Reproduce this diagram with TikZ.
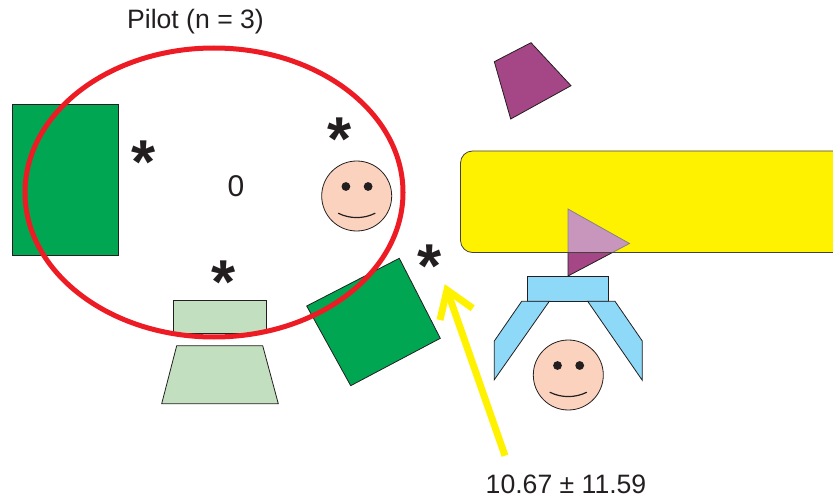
\documentclass[tikz,border=0pt]{standalone}
\usepackage{fontspec}
\usetikzlibrary{shapes.geometric}
\setmainfont{Liberation Sans}
\definecolor{ink}{HTML}{231F20}
\definecolor{dgreen}{HTML}{00A651}
\definecolor{pgreen}{HTML}{C2E0C0}
\definecolor{ared}{HTML}{ED1C24}
\definecolor{ayellow}{HTML}{FFF200}
\definecolor{apurple}{HTML}{A54686}
\definecolor{lpurple}{HTML}{C895BC}
\definecolor{ablue}{HTML}{8ED8F8}
\definecolor{skin}{HTML}{FBD2BD}
\tikzset{
  shapeline/.style={draw=ink,line width=0.8pt,line join=miter},
  label text/.style={text=ink,inner sep=0pt,font=\fontsize{26.6}{30}\selectfont},
  starmark/.style={text=ink,inner sep=0pt,font=\fontsize{62}{62}\selectfont\bfseries},
  smileline/.style={draw=ink,line width=1.2pt,line cap=round},
}
\newcommand{\smiley}[3]{%
  \begin{scope}[shift={(#1,#2)}]
    \node[circle,draw=ink,line width=0.8pt,fill=skin,minimum size=70pt,inner sep=0pt] (#3) at (0,0) {};
    \fill[ink] (-10.8,-9.5) circle (4.4);
    \fill[ink] (11.4,-9.5) circle (4.4);
    \draw[smileline] (-18.3,17.3) .. controls (-7,23) and (7,23) .. (18.3,17.3);
  \end{scope}}
\begin{document}
\begin{tikzpicture}[x=1pt,y=-1pt]
\useasboundingbox (0,0) rectangle (833,500);
\clip (0,0) rectangle (833,500);
% left green block
\filldraw[shapeline,fill=dgreen] (12,104) rectangle (118,255);
% tilted green square
\filldraw[shapeline,fill=dgreen] (306.7,306) -- (399.3,258.3) -- (440.3,338.3) -- (350.7,385.7) -- cycle;
% pale green pieces
\filldraw[shapeline,fill=pgreen] (173.3,300) rectangle (266.7,333.5);
\filldraw[shapeline,fill=pgreen] (176.7,345.7) -- (262.7,345.7) -- (278.3,403.7) -- (161.7,403.7) -- cycle;
% purple quadrilateral
\filldraw[shapeline,fill=apurple] (494.3,61.7) -- (531,42.7) -- (571,85.7) -- (510.7,119) -- cycle;
% purple triangle, yellow bar, translucent overlap
\filldraw[shapeline,fill=apurple] (568,209) -- (629.5,243.5) -- (568,276) -- cycle;
\fill[ayellow,rounded corners=12pt] (460.5,151) rectangle (845,252.5);
\begin{scope}
  \clip (450,140) rectangle (840,252.5);
  \filldraw[draw=ink!55,line width=0.8pt,fill=lpurple] (568,209) -- (629.5,243.5) -- (568,276) -- cycle;
\end{scope}
\draw[draw=ink!85,line width=0.8pt,rounded corners=12pt] (460.5,151) rectangle (845,252.5);
% blue gripper
\filldraw[shapeline,fill=ablue] (527.7,276) rectangle (608.7,301.3);
\filldraw[shapeline,fill=ablue] (521.7,301.3) -- (549.3,301.3) -- (494.3,379.7) -- (494.3,341) -- cycle;
\filldraw[shapeline,fill=ablue] (587.7,301.3) -- (615,301.3) -- (642.3,341) -- (642.3,380.3) -- cycle;
% faces
\smiley{356.7}{196}{faceA}
\smiley{568.3}{375}{faceB}
% red ellipse
\node[ellipse,draw=ared,line width=5pt,minimum width=378pt,minimum height=289pt,inner sep=0pt] (loop) at (214,192.5) {};
% labels
\node[label text] (pilot) at (195.5,22) {Pilot (n = 3)};
\node[label text,font=\fontsize{30}{32}\selectfont] (zero) at (236,186) {0};
\node[label text] (value) at (566,484) {10.67 ± 11.59};
\node[starmark] (s1) at (144,162.5) {*};
\node[starmark] (s2) at (340,139) {*};
\node[starmark] (s3) at (224,282.5) {*};
\node[starmark] (s4) at (430,266.5) {*};
% yellow arrow
\coordinate (tail) at (505,455.7);
\coordinate (tip) at (447,290);
\coordinate (armL) at (440,320);
\coordinate (armR) at (472.7,308.3);
\draw[ayellow,line width=7pt] (tail) -- (tip);
\draw[ayellow,line width=7pt,line join=miter,miter limit=10] (armL) -- (tip) -- (armR);
\end{tikzpicture}
\end{document}
